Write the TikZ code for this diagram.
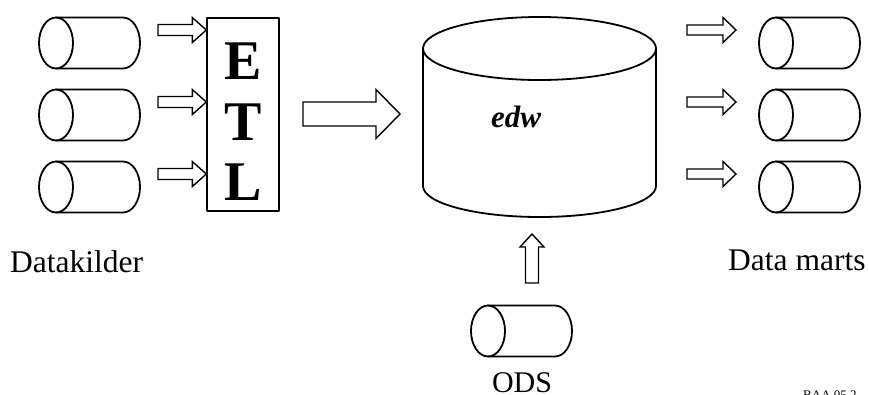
\documentclass[tikz,border=0pt]{standalone}
\usepackage{fontspec}
\setmainfont{Liberation Serif}
\usetikzlibrary{calc}

\tikzset{
  cyl/.style={line width=1.8pt},
  pil/.style={line width=1.4pt, line join=miter},
  boks/.style={draw, line width=1.4pt, minimum width=72pt, minimum height=193pt, inner sep=0pt},
  etlbok/.style={font=\fontsize{56}{60}\selectfont\bfseries, anchor=base, inner sep=0pt},
  txt/.style={font=\fontsize{31.5}{36}\selectfont, inner sep=0pt},
}

% 横向きシリンダー (中心)
\newcommand{\liggcyl}[1]{%
  \draw[cyl] (#1) ellipse [x radius=17pt, y radius=25.5pt];
  \draw[cyl] ($(#1)+(0,-25.5)$) -- ++(67,0)
    arc [start angle=90, end angle=-90, x radius=17pt, y radius=25.5pt]
    -- ($(#1)+(0,25.5)$);
}

% 中空の矢印 {始点}{先端}{軸の半幅}{頭の半幅}{頭の長さ}
\newcommand{\blokpil}[5]{%
  \coordinate (bp-h) at ($(#2)!#5!(#1)$);
  \draw[pil] ($(#1)!#3!90:(#2)$) -- ($(bp-h)!#3!90:(#2)$)
    -- ($(bp-h)!#4!90:(#2)$) -- (#2)
    -- ($(bp-h)!#4!-90:(#2)$) -- ($(bp-h)!#3!-90:(#2)$)
    -- ($(#1)!#3!-90:(#2)$) -- cycle;
}

\begin{document}
\begin{tikzpicture}[x=1pt, y=-1pt, line cap=round, line join=round]

  \useasboundingbox (0,0) rectangle (869,394);

  % ===== データソース / データマート =====
  \foreach \i/\y in {1/43, 2/115, 3/187} {
    \coordinate (kilde\i) at (56,\y);
    \coordinate (mart\i) at (776,\y);
    \liggcyl{kilde\i}
    \liggcyl{mart\i}
  }

  % ===== ETL =====
  \node[boks] (etl) at (243,114.5) {};
  \node[etlbok] (etlE) at (243,79) {E};
  \node[etlbok] (etlT) at (243,140) {T};
  \node[etlbok] (etlL) at (243,200) {L};

  % ===== 小さい矢印 =====
  \foreach \i/\y in {1/30, 2/102, 3/174} {
    \coordinate (kildeut\i) at (158,\y);
    \coordinate (etlinn\i) at (etl.west |- 0,\y);
    \blokpil{kildeut\i}{etlinn\i}{5.5pt}{12.5pt}{14pt}
    \coordinate (edwut\i) at (687,\y);
    \coordinate (martinn\i) at (736,\y);
    \blokpil{edwut\i}{martinn\i}{5pt}{12.5pt}{13pt}
  }

  % ===== edw =====
  \coordinate (edwtopp) at (539.5,48.5);
  \draw[cyl] (edwtopp) ellipse [x radius=116.5pt, y radius=31.5pt];
  \draw[cyl] (423,48.5) -- (423,186)
    arc [start angle=180, end angle=360, x radius=116.5pt, y radius=31pt]
    -- (656,48.5);
  \node[font=\fontsize{31}{34}\selectfont\bfseries\itshape, anchor=base west, inner sep=0pt]
    (edw) at (491,127) {edw};

  % ===== 大きい矢印 =====
  \coordinate (etlut) at (303,114);
  \coordinate (edwinn) at (400,114);
  \blokpil{etlut}{edwinn}{12pt}{24.5pt}{24pt}

  % ===== ODS =====
  \coordinate (ods) at (488,331);
  \liggcyl{ods}
  \coordinate (odsut) at (532,283);
  \coordinate (edwbunn) at (532,234);
  \blokpil{odsut}{edwbunn}{6.5pt}{12pt}{13pt}

  % ===== ラベル =====
  \node[txt, anchor=base west] (datakilder) at (10,272) {Datakilder};
  \node[txt, anchor=base west] (datamarts) at (728,270) {Data marts};
  \node[txt, font=\fontsize{30}{36}\selectfont, anchor=base] (odstekst) at (522,392) {ODS};
  \node[font=\fontsize{13}{15}\selectfont, anchor=base west, inner sep=0pt] (ref) at (803,399) {BAA 05.2};

\end{tikzpicture}
\end{document}
